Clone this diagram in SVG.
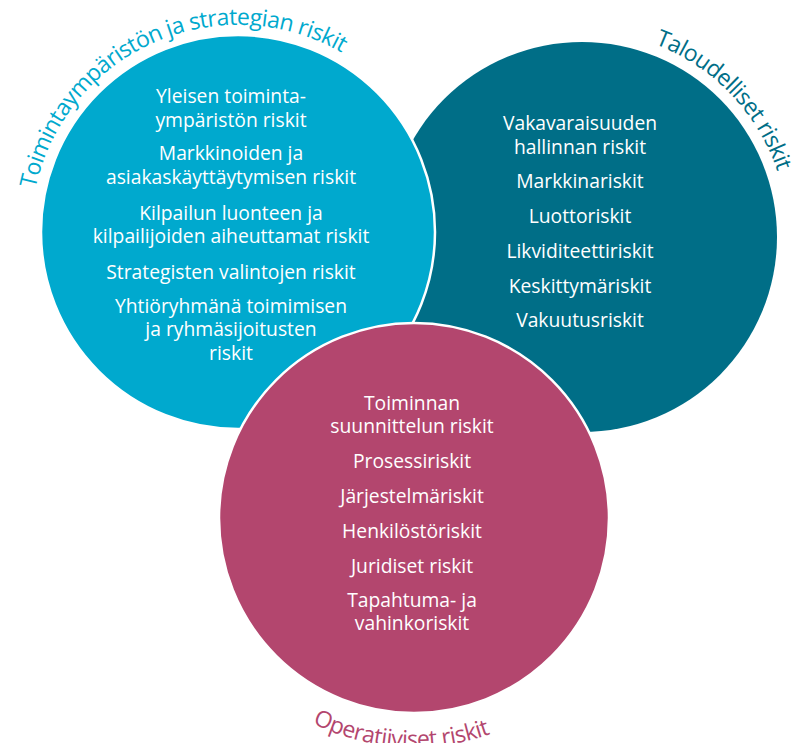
<svg xmlns="http://www.w3.org/2000/svg" xmlns:xlink="http://www.w3.org/1999/xlink" width="800" height="743" viewBox="0 0 800 743">
  <style>
    .item { font-family: "Open Sans", "Noto Sans", "Liberation Sans", sans-serif; font-size: 19.3px; fill: #ffffff; text-anchor: middle; }
    .arc-label { font-family: "Open Sans", "Noto Sans", "Liberation Sans", sans-serif; font-size: 23px; letter-spacing: -0.6px; }
    .disc-edge { stroke: #ffffff; stroke-width: 2.5; }
  </style>
  <defs>
    <!-- baselines for the curved headings -->
    <path id="arc-strategy" d="M37.1,282.1 A207,207 0 0 1 409.6,116.2"/>
    <path id="arc-finance" d="M498.2,48.8 A206,206 0 0 1 767.2,327.3"/>
    <path id="arc-operations" d="M215.6,632.5 A229,229 0 0 0 596.9,655.8"/>
  </defs>
  <rect width="800" height="743" fill="#ffffff"/>

  <!-- financial risks -->
  <g id="node-finance">
    <circle cx="582" cy="237" r="195" fill="#006E87"/>
    <text class="item" x="580" y="130">Vakavaraisuuden</text>
    <text class="item" x="580" y="154">hallinnan riskit</text>
    <text class="item" x="580" y="188">Markkinariskit</text>
    <text class="item" x="580" y="223">Luottoriskit</text>
    <text class="item" x="580" y="258">Likviditeettiriskit</text>
    <text class="item" x="580" y="293">Keskittymäriskit</text>
    <text class="item" x="580" y="327">Vakuutusriskit</text>
    <text class="arc-label" font-size="22.5" fill="#006E87"><textPath xlink:href="#arc-finance" href="#arc-finance" startOffset="50%" text-anchor="middle">Taloudelliset riskit</textPath></text>
  </g>

  <!-- operating environment and strategy risks -->
  <g id="node-strategy">
    <circle class="disc-edge" cx="238" cy="232" r="197" fill="#00A9CE"/>
    <text class="item" x="231" y="103">Yleisen toiminta-</text>
    <text class="item" x="231" y="127">ympäristön riskit</text>
    <text class="item" x="231" y="160">Markkinoiden ja</text>
    <text class="item" x="231" y="184">asiakaskäyttäytymisen riskit</text>
    <text class="item" x="231" y="220">Kilpailun luonteen ja</text>
    <text class="item" x="231" y="243">kilpailijoiden aiheuttamat riskit</text>
    <text class="item" x="231" y="279">Strategisten valintojen riskit</text>
    <text class="item" x="231" y="313">Yhtiöryhmänä toimimisen</text>
    <text class="item" x="231" y="336">ja ryhmäsijoitusten</text>
    <text class="item" x="231" y="360">riskit</text>
    <text class="arc-label" fill="#00A9CE"><textPath xlink:href="#arc-strategy" href="#arc-strategy" startOffset="50%" text-anchor="middle">Toimintaympäristön ja strategian riskit</textPath></text>
  </g>

  <!-- operational risks -->
  <g id="node-operations">
    <circle class="disc-edge" cx="414" cy="518" r="195" fill="#B3466E"/>
    <text class="item" x="412" y="410">Toiminnan</text>
    <text class="item" x="412" y="433">suunnittelun riskit</text>
    <text class="item" x="412" y="468">Prosessiriskit</text>
    <text class="item" x="412" y="503">Järjestelmäriskit</text>
    <text class="item" x="412" y="538">Henkilöstöriskit</text>
    <text class="item" x="412" y="573">Juridiset riskit</text>
    <text class="item" x="412" y="607">Tapahtuma- ja</text>
    <text class="item" x="412" y="630">vahinkoriskit</text>
    <text class="arc-label" fill="#B3466E"><textPath xlink:href="#arc-operations" href="#arc-operations" startOffset="50%" text-anchor="middle">Operatiiviset riskit</textPath></text>
  </g>
</svg>
